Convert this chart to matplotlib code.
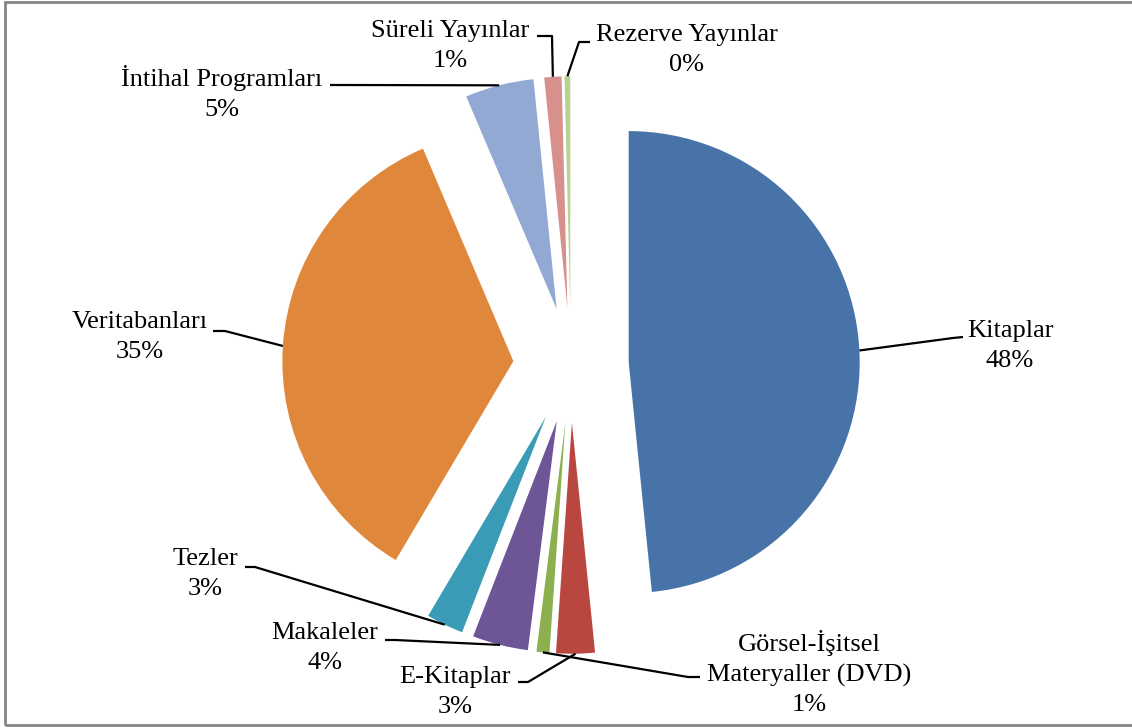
import numpy as np
import matplotlib
matplotlib.use('Agg')
import matplotlib.pyplot as plt
from matplotlib.patches import Rectangle

W, H = 1132, 728

categories = ["Kitaplar", "E-Kitaplar", "Görsel-İşitsel\nMateryaller (DVD)", "Makaleler",
              "Tezler", "Veritabanları", "İntihal Programları", "Süreli Yayınlar",
              "Rezerve Yayınlar"]
values = [48.4, 2.7, 0.9, 3.9, 2.6, 35.1, 4.8, 1.2, 0.4]
colors = ["#4773a9", "#b9473f", "#8db04e", "#6e5596", "#3a9bb6",
          "#df883c", "#92a9d4", "#d8908c", "#b7d18f"]

# label block centres and leader elbows, in pixels from the top-left corner
label_pos = [(1010, 346), (455, 692), (809, 673), (325, 648), (205, 574),
             (140, 337), (222, 93), (450, 46), (687, 50)]
leader_pts = [[(963, 337), (953, 338)],
              [(518, 682), (528, 682)],
              [(700, 677), (688, 677)],
              [(385, 640), (395, 640)],
              [(245, 567), (255, 567)],
              [(213, 331), (225, 331)],
              [(330, 85), (340, 85)],
              [(537, 36), (552, 36)],
              [(590, 42), (579, 42)]]

plt.rcParams['font.family'] = ['Liberation Serif', 'DejaVu Serif']

fig = plt.figure(figsize=(W / 100, H / 100), dpi=100)
ax = fig.add_axes([0, 0, 1, 1])

cx, cy, r = 571, H - 365, 231
# pie explode offsets are in data units, so scale by the radius
wedges, _ = ax.pie(values, explode=[0.25 * r] * len(values), colors=colors,
                   startangle=90, counterclock=False, center=(cx, cy), radius=r,
                   wedgeprops=dict(linewidth=0))

for w, name, v, (tx, ty), pts in zip(wedges, categories, values, label_pos, leader_pts):
    ang = np.deg2rad((w.theta1 + w.theta2) / 2)
    ex, ey = w.center[0] + r * np.cos(ang), w.center[1] + r * np.sin(ang)
    xs = [p[0] for p in pts] + [ex]
    ys = [H - p[1] for p in pts] + [ey]
    ax.plot(xs, ys, color="black", lw=1.6, solid_capstyle="butt")
    ax.text(tx, H - ty, f"{name}\n{round(v)}%", ha="center", va="center",
            multialignment="center", fontsize=19, linespacing=1.45, color="black")

ax.set_xlim(0, W)
ax.set_ylim(0, H)
ax.axis("off")

# chart area border
fig.patches.append(Rectangle((5 / W, 3 / H), 1.0, (H - 5) / H, transform=fig.transFigure,
                             fill=False, edgecolor="#858585", lw=2))

fig.savefig("out.png", dpi=100, facecolor="white")
